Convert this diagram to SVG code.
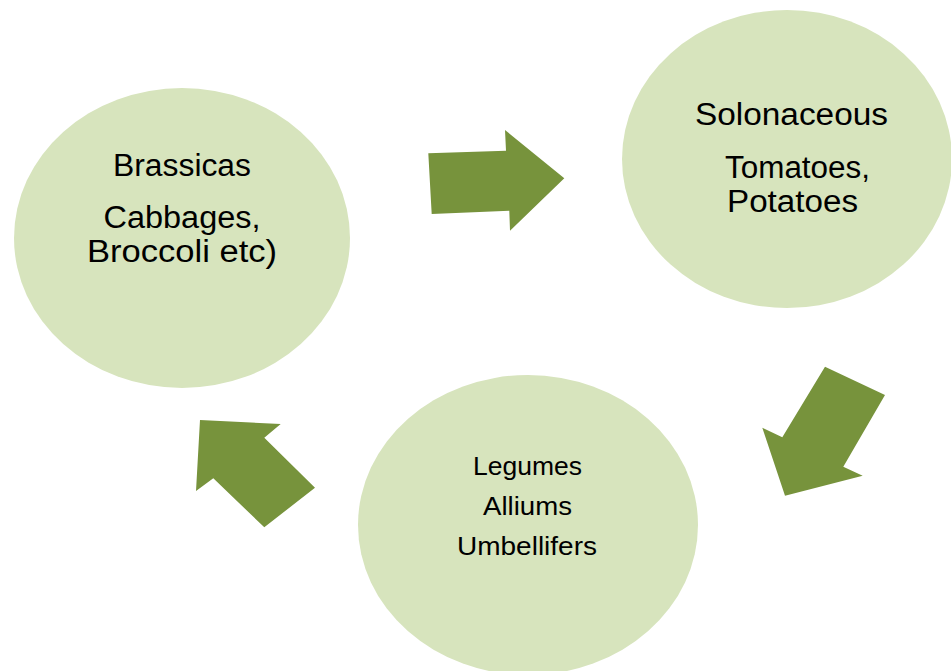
<svg xmlns="http://www.w3.org/2000/svg" width="951" height="671" viewBox="0 0 951 671">
<style>
.node ellipse{fill:#d7e4bd;}
.arrow{fill:#77933c;}
text{font-family:"Liberation Sans",Arial,sans-serif;fill:#000;text-anchor:middle;}
.big{font-size:31px;}
.small{font-size:25px;}
</style>
<rect width="951" height="671" fill="#ffffff"/>
<g id="brassicas" class="node">
<ellipse cx="182" cy="238" rx="168" ry="150"/>
<text class="big" x="182" y="176" textLength="138" lengthAdjust="spacingAndGlyphs">Brassicas</text>
<text class="big" x="182" y="228" textLength="157" lengthAdjust="spacingAndGlyphs">Cabbages,</text>
<text class="big" x="182" y="262" textLength="190" lengthAdjust="spacingAndGlyphs">Broccoli etc)</text>
</g>
<g id="solonaceous" class="node">
<ellipse cx="787" cy="159" rx="165" ry="149"/>
<text class="big" x="791.5" y="125" textLength="193" lengthAdjust="spacingAndGlyphs">Solonaceous</text>
<text class="big" x="797.5" y="178" textLength="145" lengthAdjust="spacingAndGlyphs">Tomatoes,</text>
<text class="big" x="792.5" y="212" textLength="131" lengthAdjust="spacingAndGlyphs">Potatoes</text>
</g>
<g id="legumes" class="node">
<ellipse cx="528" cy="525" rx="170" ry="150"/>
<text class="small" x="527.5" y="475" textLength="109" lengthAdjust="spacingAndGlyphs">Legumes</text>
<text class="small" x="527.5" y="515" textLength="89" lengthAdjust="spacingAndGlyphs">Alliums</text>
<text class="small" x="527" y="555" textLength="140" lengthAdjust="spacingAndGlyphs">Umbellifers</text>
</g>
<g id="connectors">
<polygon class="arrow" points="428.3,153.3 506,150.7 505,130 564.3,178.3 510,230.7 509.3,210.7 431.7,214"/>
<polygon class="arrow" points="825,366.7 885,395 843.3,466.7 862.7,475.7 785,495.7 762.3,427.7 782.3,437.3"/>
<polygon class="arrow" points="315,487.7 264.3,527.3 213.3,478.3 196,491 200,420 280.7,424 264.3,437.7"/>
</g>
</svg>
